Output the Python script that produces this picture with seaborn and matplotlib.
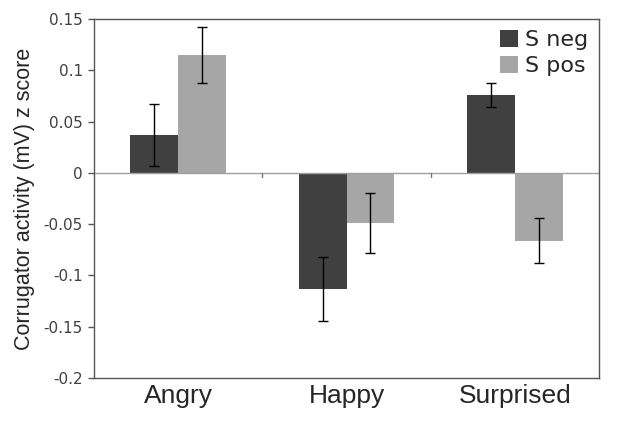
import pandas as pd
import matplotlib.pyplot as plt
import seaborn as sns
import numpy as np

# values
emotions = ['Angry', 'Happy', 'Surprised']
groups = ['S neg', 'S pos']
s_neg = [0.037, -0.113, 0.076]
s_pos = [0.115, -0.049, -0.066]
s_neg_err = [0.030, 0.031, 0.012]
s_pos_err = [0.027, 0.029, 0.022]
y_ticks = [0.15, 0.1, 0.05, 0, -0.05, -0.1, -0.15, -0.2]
y_tick_labels = ['0.15', '0.1', '0.05', '0', '-0.05', '-0.1', '-0.15', '-0.2']

df = pd.DataFrame({
    'Emotion': emotions * 2,
    'Group': [groups[0]] * 3 + [groups[1]] * 3,
    'Value': s_neg + s_pos,
    'Err': s_neg_err + s_pos_err,
})

sns.set_style('white')
plt.rcParams['font.family'] = ['DejaVu Sans']

fig = plt.figure(figsize=(6.24, 4.21), dpi=100)
ax = fig.add_axes([0.1506, 0.1021, 0.8094, 0.8528])

palette = {'S neg': '#404040', 'S pos': '#a6a6a6'}
sns.barplot(data=df, x='Emotion', y='Value', hue='Group', order=emotions,
            hue_order=groups, palette=palette, width=0.57, errorbar=None,
            saturation=1, linewidth=0, ax=ax)

# error bars at bar centres
for cont, grp in zip(ax.containers, groups):
    sub = df[df['Group'] == grp].set_index('Emotion').loc[emotions]
    xs = [p.get_x() + p.get_width() / 2 for p in cont.patches]
    ax.errorbar(xs, sub['Value'], yerr=sub['Err'], fmt='none', ecolor='black',
                elinewidth=1, capsize=3.5, capthick=1, zorder=5)

# zero line and category separators
ax.axhline(0, color='#a0a0a0', linewidth=1, zorder=1)
for b in [0.5, 1.5]:
    ax.plot([b, b], [0, -0.004], color='#777777', linewidth=1, zorder=1)

ax.set_xlim(-0.5, 2.5)
ax.set_ylim(-0.2, 0.15)
ax.set_yticks(y_ticks)
ax.set_yticklabels(y_tick_labels, fontsize=11, color='#404040')
ax.tick_params(axis='y', length=4, width=1, color='#555555', direction='out', left=True, pad=4)
ax.tick_params(axis='x', length=0, pad=4)
for lab in ax.get_xticklabels():
    lab.set_fontfamily('Liberation Sans')
    lab.set_fontsize(19)
ax.set_xlabel('')
ax.set_ylabel('Corrugator activity (mV) z score', fontsize=15.5, family='Liberation Sans', labelpad=6)

for sp in ax.spines.values():
    sp.set_visible(True)
    sp.set_color('#555555')
    sp.set_linewidth(1)

ax.legend(loc='upper right', frameon=False, fontsize=16, handlelength=0.8, handleheight=0.8,
          handletextpad=0.3, labelspacing=0.25, borderaxespad=0.1)

fig.savefig('out.png', dpi=100)
